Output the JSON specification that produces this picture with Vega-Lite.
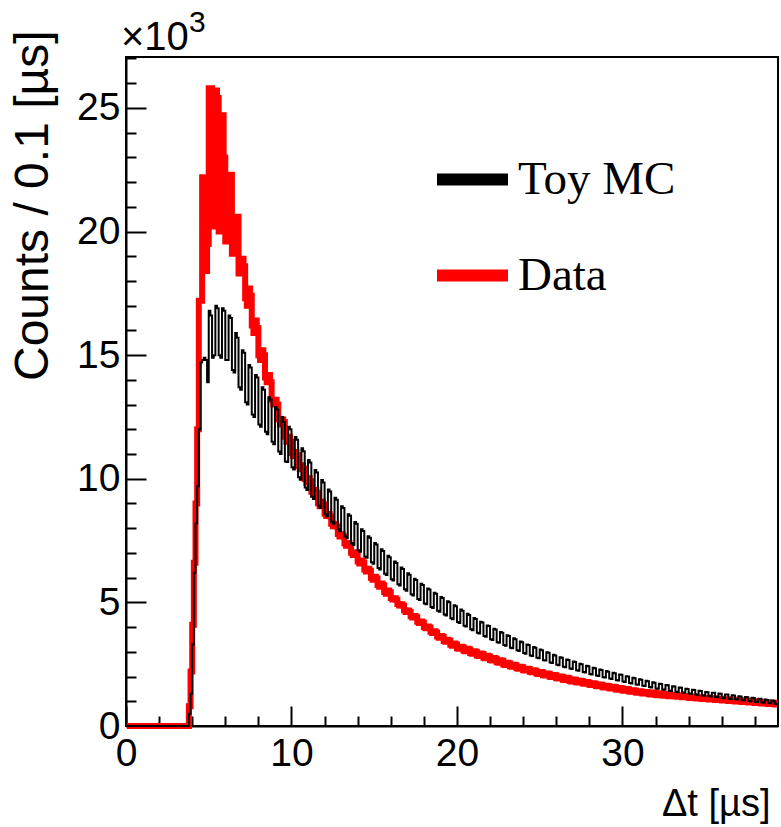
{
  "$schema": "https://vega.github.io/schema/vega-lite/v6.json",
  "width": 652,
  "height": 669,
  "autosize": {"type": "none"},
  "padding": {"left": 126, "top": 57, "right": 3, "bottom": 101},
  "background": "white",
  "config": {
    "view": {"stroke": "black", "strokeWidth": 2},
    "axis": {
      "domainColor": "black", "domainWidth": 2,
      "tickColor": "black", "tickWidth": 2,
      "grid": false,
      "labelColor": "black", "labelFont": "Liberation Sans", "labelFontSize": 39,
      "titleColor": "black", "titleFont": "Liberation Sans", "titleFontWeight": "normal",
      "labelFlush": false, "labelOverlap": false
    }
  },
  "datasets": {
    "hist": [
      {"t":0.05,"mc":0,"data":0},{"t":0.15,"mc":0,"data":0},{"t":0.25,"mc":0,"data":0},{"t":0.35,"mc":0,"data":0},{"t":0.45,"mc":0,"data":0},
      {"t":0.55,"mc":0,"data":0},{"t":0.65,"mc":0,"data":0},{"t":0.75,"mc":0,"data":0},{"t":0.85,"mc":0,"data":0},{"t":0.95,"mc":0,"data":0},
      {"t":1.05,"mc":0,"data":0},{"t":1.15,"mc":0,"data":0},{"t":1.25,"mc":0,"data":0},{"t":1.35,"mc":0,"data":0},{"t":1.45,"mc":0,"data":0},
      {"t":1.55,"mc":0,"data":0},{"t":1.65,"mc":0,"data":0},{"t":1.75,"mc":0,"data":0},{"t":1.85,"mc":0,"data":0},{"t":1.95,"mc":0,"data":0},
      {"t":2.05,"mc":0,"data":0},{"t":2.15,"mc":0,"data":0},{"t":2.25,"mc":0,"data":0},{"t":2.35,"mc":0,"data":0},{"t":2.45,"mc":0,"data":0},
      {"t":2.55,"mc":0,"data":0},{"t":2.65,"mc":0,"data":0},{"t":2.75,"mc":0,"data":0},{"t":2.85,"mc":0,"data":0},{"t":2.95,"mc":0,"data":0},
      {"t":3.05,"mc":0,"data":0},{"t":3.15,"mc":0,"data":0},{"t":3.25,"mc":0,"data":0},{"t":3.35,"mc":0,"data":0},{"t":3.45,"mc":0,"data":0},
      {"t":3.55,"mc":0,"data":0},{"t":3.65,"mc":0,"data":0},{"t":3.75,"mc":0,"data":0},{"t":3.85,"mc":500,"data":800},{"t":3.95,"mc":1300,"data":2200},
      {"t":4.05,"mc":3300,"data":4100},{"t":4.15,"mc":6200,"data":6600},{"t":4.25,"mc":8200,"data":9000},{"t":4.35,"mc":9700,"data":12000},{"t":4.45,"mc":12000,"data":17200},
      {"t":4.55,"mc":14700,"data":17200},{"t":4.65,"mc":14800,"data":22200},{"t":4.75,"mc":14900,"data":22200},{"t":4.85,"mc":14800,"data":18400},{"t":4.95,"mc":13900,"data":19500},
      {"t":5.05,"mc":16800,"data":25800},{"t":5.15,"mc":16600,"data":25800},{"t":5.25,"mc":14900,"data":20200},{"t":5.35,"mc":15000,"data":20300},{"t":5.45,"mc":17000,"data":25700},
      {"t":5.55,"mc":16900,"data":25400},{"t":5.65,"mc":15000,"data":20000},{"t":5.75,"mc":14900,"data":20100},{"t":5.85,"mc":16900,"data":24700},{"t":5.95,"mc":16800,"data":23000},
      {"t":6.05,"mc":14800,"data":19600},{"t":6.15,"mc":14800,"data":19700},{"t":6.25,"mc":16600,"data":22300},{"t":6.35,"mc":16500,"data":22300},{"t":6.45,"mc":14400,"data":19100},
      {"t":6.55,"mc":14300,"data":19200},{"t":6.65,"mc":15900,"data":20600},{"t":6.75,"mc":15700,"data":20600},{"t":6.85,"mc":13700,"data":18300},{"t":6.95,"mc":13600,"data":18400},
      {"t":7.05,"mc":15200,"data":18900},{"t":7.15,"mc":15100,"data":18600},{"t":7.25,"mc":13100,"data":17300},{"t":7.35,"mc":13000,"data":17000},{"t":7.45,"mc":14600,"data":17700},
      {"t":7.55,"mc":14500,"data":17400},{"t":7.65,"mc":12600,"data":16200},{"t":7.75,"mc":12500,"data":15900},{"t":7.85,"mc":14200,"data":16400},{"t":7.95,"mc":14100,"data":16100},
      {"t":8.05,"mc":12200,"data":15000},{"t":8.15,"mc":12100,"data":14800},{"t":8.25,"mc":13700,"data":15200},{"t":8.35,"mc":13600,"data":15000},{"t":8.45,"mc":11900,"data":14100},
      {"t":8.55,"mc":11800,"data":13900},{"t":8.65,"mc":13300,"data":14200},{"t":8.75,"mc":13200,"data":13900},{"t":8.85,"mc":11500,"data":13200},{"t":8.95,"mc":11400,"data":13000},
      {"t":9.05,"mc":12900,"data":13200},{"t":9.15,"mc":12800,"data":13000},{"t":9.25,"mc":11100,"data":12400},{"t":9.35,"mc":11000,"data":12200},{"t":9.45,"mc":12500,"data":12400},
      {"t":9.55,"mc":12300,"data":12300},{"t":9.65,"mc":10700,"data":11700},{"t":9.75,"mc":10680,"data":11500},{"t":9.85,"mc":12100,"data":11700},{"t":9.95,"mc":12000,"data":11500},
      {"t":10.05,"mc":10470,"data":11030},{"t":10.15,"mc":10370,"data":10920},{"t":10.25,"mc":11690,"data":11080},{"t":10.35,"mc":11580,"data":10950},{"t":10.45,"mc":10060,"data":10520},
      {"t":10.55,"mc":9960,"data":10390},{"t":10.65,"mc":11230,"data":10550},{"t":10.75,"mc":11110,"data":10420},{"t":10.85,"mc":9650,"data":9990},{"t":10.95,"mc":9550,"data":9850},
      {"t":11.05,"mc":10760,"data":10020},{"t":11.15,"mc":10660,"data":9900},{"t":11.25,"mc":9270,"data":9480},{"t":11.35,"mc":9180,"data":9370},{"t":11.45,"mc":10350,"data":9550},
      {"t":11.55,"mc":10250,"data":9430},{"t":11.65,"mc":8910,"data":9010},{"t":11.75,"mc":8820,"data":8890},{"t":11.85,"mc":9950,"data":9080},{"t":11.95,"mc":9850,"data":8960},
      {"t":12.05,"mc":8560,"data":8590},{"t":12.15,"mc":8480,"data":8490},{"t":12.25,"mc":9570,"data":8580},{"t":12.35,"mc":9490,"data":8480},{"t":12.45,"mc":8260,"data":8180},
      {"t":12.55,"mc":8180,"data":8080},{"t":12.65,"mc":9230,"data":8170},{"t":12.75,"mc":9150,"data":8070},{"t":12.85,"mc":7960,"data":7770},{"t":12.95,"mc":7880,"data":7660},
      {"t":13.05,"mc":8890,"data":7760},{"t":13.15,"mc":8820,"data":7670},{"t":13.25,"mc":7670,"data":7380},{"t":13.35,"mc":7600,"data":7290},{"t":13.45,"mc":8570,"data":7400},
      {"t":13.55,"mc":8500,"data":7310},{"t":13.65,"mc":7390,"data":7010},{"t":13.75,"mc":7320,"data":6920},{"t":13.85,"mc":8250,"data":7030},{"t":13.95,"mc":8180,"data":6940},
      {"t":14.05,"mc":7110,"data":6650},{"t":14.15,"mc":7050,"data":6570},{"t":14.25,"mc":7960,"data":6690},{"t":14.35,"mc":7890,"data":6610},{"t":14.45,"mc":6860,"data":6330},
      {"t":14.55,"mc":6810,"data":6250},{"t":14.65,"mc":7680,"data":6360},{"t":14.75,"mc":7610,"data":6280},{"t":14.85,"mc":6620,"data":6000},{"t":14.95,"mc":6560,"data":5920},
      {"t":15.05,"mc":7400,"data":6040},{"t":15.15,"mc":7340,"data":5970},{"t":15.25,"mc":6390,"data":5700},{"t":15.35,"mc":6330,"data":5630},{"t":15.45,"mc":7150,"data":5760},
      {"t":15.55,"mc":7080,"data":5690},{"t":15.65,"mc":6160,"data":5420},{"t":15.75,"mc":6110,"data":5350},{"t":15.85,"mc":6890,"data":5480},{"t":15.95,"mc":6830,"data":5410},
      {"t":16.05,"mc":5940,"data":5180},{"t":16.15,"mc":5890,"data":5120},{"t":16.25,"mc":6650,"data":5170},{"t":16.35,"mc":6590,"data":5110},{"t":16.45,"mc":5730,"data":4930},
      {"t":16.55,"mc":5680,"data":4870},{"t":16.65,"mc":6410,"data":4920},{"t":16.75,"mc":6350,"data":4860},{"t":16.85,"mc":5530,"data":4680},{"t":16.95,"mc":5470,"data":4610},
      {"t":17.05,"mc":6180,"data":4670},{"t":17.15,"mc":6120,"data":4620},{"t":17.25,"mc":5330,"data":4440},{"t":17.35,"mc":5280,"data":4390},{"t":17.45,"mc":5960,"data":4450},
      {"t":17.55,"mc":5910,"data":4400},{"t":17.65,"mc":5140,"data":4220},{"t":17.75,"mc":5100,"data":4170},{"t":17.85,"mc":5750,"data":4230},{"t":17.95,"mc":5700,"data":4180},
      {"t":18.05,"mc":4960,"data":4000},{"t":18.15,"mc":4920,"data":3950},{"t":18.25,"mc":5560,"data":4020},{"t":18.35,"mc":5520,"data":3980},{"t":18.45,"mc":4810,"data":3810},
      {"t":18.55,"mc":4770,"data":3760},{"t":18.65,"mc":5390,"data":3830},{"t":18.75,"mc":5350,"data":3780},{"t":18.85,"mc":4660,"data":3620},{"t":18.95,"mc":4620,"data":3570},
      {"t":19.05,"mc":5220,"data":3640},{"t":19.15,"mc":5180,"data":3600},{"t":19.25,"mc":4510,"data":3440},{"t":19.35,"mc":4470,"data":3410},{"t":19.45,"mc":5050,"data":3490},
      {"t":19.55,"mc":5010,"data":3450},{"t":19.65,"mc":4360,"data":3290},{"t":19.75,"mc":4320,"data":3250},{"t":19.85,"mc":4880,"data":3340},{"t":19.95,"mc":4840,"data":3300},
      {"t":20.05,"mc":4210,"data":3140},{"t":20.15,"mc":4170,"data":3120},{"t":20.25,"mc":4710,"data":3210},{"t":20.35,"mc":4660,"data":3190},{"t":20.45,"mc":4060,"data":3040},
      {"t":20.55,"mc":4020,"data":3020},{"t":20.65,"mc":4540,"data":3120},{"t":20.75,"mc":4490,"data":3090},{"t":20.85,"mc":3910,"data":2950},{"t":20.95,"mc":3870,"data":2920},
      {"t":21.05,"mc":4370,"data":3020},{"t":21.15,"mc":4330,"data":3000},{"t":21.25,"mc":3770,"data":2850},{"t":21.35,"mc":3740,"data":2830},{"t":21.45,"mc":4220,"data":2930},
      {"t":21.55,"mc":4190,"data":2910},{"t":21.65,"mc":3640,"data":2760},{"t":21.75,"mc":3610,"data":2740},{"t":21.85,"mc":4070,"data":2840},{"t":21.95,"mc":4040,"data":2810},
      {"t":22.05,"mc":3510,"data":2670},{"t":22.15,"mc":3480,"data":2650},{"t":22.25,"mc":3930,"data":2750},{"t":22.35,"mc":3900,"data":2720},{"t":22.45,"mc":3390,"data":2580},
      {"t":22.55,"mc":3370,"data":2560},{"t":22.65,"mc":3800,"data":2660},{"t":22.75,"mc":3770,"data":2640},{"t":22.85,"mc":3280,"data":2490},{"t":22.95,"mc":3250,"data":2470},
      {"t":23.05,"mc":3670,"data":2560},{"t":23.15,"mc":3640,"data":2540},{"t":23.25,"mc":3170,"data":2420},{"t":23.35,"mc":3140,"data":2400},{"t":23.45,"mc":3550,"data":2480},
      {"t":23.55,"mc":3510,"data":2460},{"t":23.65,"mc":3060,"data":2340},{"t":23.75,"mc":3030,"data":2320},{"t":23.85,"mc":3420,"data":2400},{"t":23.95,"mc":3390,"data":2380},
      {"t":24.05,"mc":2950,"data":2260},{"t":24.15,"mc":2920,"data":2240},{"t":24.25,"mc":3300,"data":2320},{"t":24.35,"mc":3280,"data":2310},{"t":24.45,"mc":2850,"data":2190},
      {"t":24.55,"mc":2830,"data":2170},{"t":24.65,"mc":3200,"data":2250},{"t":24.75,"mc":3170,"data":2230},{"t":24.85,"mc":2760,"data":2120},{"t":24.95,"mc":2740,"data":2100},
      {"t":25.05,"mc":3090,"data":2180},{"t":25.15,"mc":3060,"data":2170},{"t":25.25,"mc":2660,"data":2050},{"t":25.35,"mc":2650,"data":2040},{"t":25.45,"mc":2980,"data":2120},
      {"t":25.55,"mc":2960,"data":2110},{"t":25.65,"mc":2570,"data":1990},{"t":25.75,"mc":2550,"data":1980},{"t":25.85,"mc":2880,"data":2060},{"t":25.95,"mc":2850,"data":2050},
      {"t":26.05,"mc":2480,"data":1930},{"t":26.15,"mc":2460,"data":1920},{"t":26.25,"mc":2780,"data":2000},{"t":26.35,"mc":2760,"data":1990},{"t":26.45,"mc":2400,"data":1870},
      {"t":26.55,"mc":2380,"data":1860},{"t":26.65,"mc":2690,"data":1950},{"t":26.75,"mc":2670,"data":1930},{"t":26.85,"mc":2330,"data":1820},{"t":26.95,"mc":2310,"data":1800},
      {"t":27.05,"mc":2610,"data":1880},{"t":27.15,"mc":2590,"data":1870},{"t":27.25,"mc":2250,"data":1770},{"t":27.35,"mc":2230,"data":1760},{"t":27.45,"mc":2520,"data":1830},
      {"t":27.55,"mc":2500,"data":1820},{"t":27.65,"mc":2180,"data":1720},{"t":27.75,"mc":2160,"data":1710},{"t":27.85,"mc":2440,"data":1780},{"t":27.95,"mc":2420,"data":1760},
      {"t":28.05,"mc":2100,"data":1670},{"t":28.15,"mc":2080,"data":1660},{"t":28.25,"mc":2360,"data":1730},{"t":28.35,"mc":2340,"data":1710},{"t":28.45,"mc":2040,"data":1620},
      {"t":28.55,"mc":2020,"data":1610},{"t":28.65,"mc":2290,"data":1680},{"t":28.75,"mc":2270,"data":1670},{"t":28.85,"mc":1970,"data":1570},{"t":28.95,"mc":1960,"data":1560},
      {"t":29.05,"mc":2220,"data":1630},{"t":29.15,"mc":2190,"data":1620},{"t":29.25,"mc":1920,"data":1530},{"t":29.35,"mc":1900,"data":1520},{"t":29.45,"mc":2150,"data":1590},
      {"t":29.55,"mc":2130,"data":1580},{"t":29.65,"mc":1850,"data":1480},{"t":29.75,"mc":1840,"data":1470},{"t":29.85,"mc":2080,"data":1540},{"t":29.95,"mc":2070,"data":1530},
      {"t":30.05,"mc":1800,"data":1440},{"t":30.15,"mc":1780,"data":1430},{"t":30.25,"mc":2010,"data":1500},{"t":30.35,"mc":2000,"data":1490},{"t":30.45,"mc":1740,"data":1400},
      {"t":30.55,"mc":1720,"data":1390},{"t":30.65,"mc":1950,"data":1450},{"t":30.75,"mc":1930,"data":1440},{"t":30.85,"mc":1680,"data":1350},{"t":30.95,"mc":1670,"data":1340},
      {"t":31.05,"mc":1890,"data":1410},{"t":31.15,"mc":1870,"data":1400},{"t":31.25,"mc":1630,"data":1310},{"t":31.35,"mc":1620,"data":1310},{"t":31.45,"mc":1830,"data":1380},
      {"t":31.55,"mc":1810,"data":1370},{"t":31.65,"mc":1580,"data":1280},{"t":31.75,"mc":1560,"data":1270},{"t":31.85,"mc":1770,"data":1350},{"t":31.95,"mc":1750,"data":1340},
      {"t":32.05,"mc":1520,"data":1250},{"t":32.15,"mc":1510,"data":1240},{"t":32.25,"mc":1710,"data":1320},{"t":32.35,"mc":1700,"data":1310},{"t":32.45,"mc":1480,"data":1230},
      {"t":32.55,"mc":1470,"data":1220},{"t":32.65,"mc":1660,"data":1290},{"t":32.75,"mc":1650,"data":1290},{"t":32.85,"mc":1430,"data":1200},{"t":32.95,"mc":1420,"data":1200},
      {"t":33.05,"mc":1610,"data":1260},{"t":33.15,"mc":1600,"data":1250},{"t":33.25,"mc":1390,"data":1190},{"t":33.35,"mc":1380,"data":1180},{"t":33.45,"mc":1560,"data":1240},
      {"t":33.55,"mc":1550,"data":1230},{"t":33.65,"mc":1350,"data":1160},{"t":33.75,"mc":1340,"data":1160},{"t":33.85,"mc":1510,"data":1210},{"t":33.95,"mc":1500,"data":1210},
      {"t":34.05,"mc":1310,"data":1140},{"t":34.15,"mc":1300,"data":1130},{"t":34.25,"mc":1470,"data":1190},{"t":34.35,"mc":1460,"data":1180},{"t":34.45,"mc":1270,"data":1120},
      {"t":34.55,"mc":1260,"data":1110},{"t":34.65,"mc":1430,"data":1160},{"t":34.75,"mc":1420,"data":1160},{"t":34.85,"mc":1230,"data":1090},{"t":34.95,"mc":1220,"data":1090},
      {"t":35.05,"mc":1380,"data":1140},{"t":35.15,"mc":1370,"data":1140},{"t":35.25,"mc":1200,"data":1070},{"t":35.35,"mc":1190,"data":1070},{"t":35.45,"mc":1340,"data":1120},
      {"t":35.55,"mc":1340,"data":1120},{"t":35.65,"mc":1170,"data":1050},{"t":35.75,"mc":1160,"data":1050},{"t":35.85,"mc":1310,"data":1100},{"t":35.95,"mc":1300,"data":1100},
      {"t":36.05,"mc":1130,"data":1030},{"t":36.15,"mc":1120,"data":1030},{"t":36.25,"mc":1270,"data":1080},{"t":36.35,"mc":1270,"data":1080},{"t":36.45,"mc":1100,"data":1010},
      {"t":36.55,"mc":1090,"data":1010},{"t":36.65,"mc":1240,"data":1060},{"t":36.75,"mc":1230,"data":1060},{"t":36.85,"mc":1080,"data":990},{"t":36.95,"mc":1070,"data":990},
      {"t":37.05,"mc":1200,"data":1040},{"t":37.15,"mc":1190,"data":1040},{"t":37.25,"mc":1040,"data":970},{"t":37.35,"mc":1040,"data":970},{"t":37.45,"mc":1170,"data":1020},
      {"t":37.55,"mc":1160,"data":1020},{"t":37.65,"mc":1010,"data":950},{"t":37.75,"mc":1000,"data":950},{"t":37.85,"mc":1140,"data":1000},{"t":37.95,"mc":1130,"data":1000},
      {"t":38.05,"mc":980,"data":930},{"t":38.15,"mc":970,"data":930},{"t":38.25,"mc":1100,"data":980},{"t":38.35,"mc":1100,"data":980},{"t":38.45,"mc":950,"data":910},
      {"t":38.55,"mc":940,"data":910},{"t":38.65,"mc":1070,"data":960},{"t":38.75,"mc":1050,"data":960},{"t":38.85,"mc":930,"data":890},{"t":38.95,"mc":920,"data":890},
      {"t":39.05,"mc":1030,"data":940},{"t":39.15,"mc":1020,"data":940},{"t":39.25,"mc":900,"data":870},{"t":39.35,"mc":890,"data":870}
    ]
  },
  "data": {"name": "hist"},
  "resolve": {"axis": {"x": "independent", "y": "independent"}},
  "layer": [
    {
      "mark": {"type": "line", "interpolate": "step", "strokeWidth": 6, "strokeJoin": "miter"},
      "encoding": {
        "x": {
          "field": "t", "type": "quantitative",
          "scale": {"domain": [0, 39.4], "nice": false, "zero": false},
          "axis": {
            "orient": "bottom", "values": [0, 10, 20, 30], "tickSize": -20, "labelPadding": 28.5,
            "title": "Δt [µs]", "titleFontSize": 38, "titleAngle": 0,
            "titleX": 644, "titleY": 89, "titleAlign": "right", "titleBaseline": "alphabetic"
          }
        },
        "y": {
          "field": "data", "type": "quantitative",
          "scale": {"domain": [0, 27060], "nice": false, "zero": true},
          "axis": {
            "orient": "left", "values": [0, 5000, 10000, 15000, 20000, 25000], "tickSize": -20, "labelPadding": 26,
            "labelExpr": "datum.value / 1000",
            "title": "Counts / 0.1 [µs]", "titleFontSize": 48, "titleAngle": 270,
            "titleX": -79, "titleY": -27, "titleAlign": "right", "titleBaseline": "alphabetic"
          }
        },
        "color": {
          "datum": "Data", "type": "nominal",
          "scale": {"domain": ["Toy MC", "Data"], "range": ["#000000", "#ff0000"]},
          "legend": {
            "orient": "none", "legendX": 305, "legendY": 81, "title": null,
            "symbolType": "stroke", "symbolSize": 5041, "symbolStrokeWidth": 12,
            "labelFont": "Liberation Serif", "labelFontSize": 47, "labelColor": "black",
            "labelOffset": 4, "labelLimit": 400, "rowPadding": 30
          }
        }
      }
    },
    {
      "mark": {"type": "line", "interpolate": "step", "strokeWidth": 2, "strokeJoin": "miter"},
      "encoding": {
        "x": {
          "field": "t", "type": "quantitative",
          "scale": {"domain": [0, 39.4], "nice": false, "zero": false},
          "axis": {
            "orient": "bottom", "values": [2, 4, 6, 8, 12, 14, 16, 18, 22, 24, 26, 28, 32, 34, 36, 38],
            "tickSize": -10, "labels": false, "domain": false, "title": null
          }
        },
        "y": {
          "field": "mc", "type": "quantitative",
          "scale": {"domain": [0, 27060], "nice": false, "zero": true},
          "axis": {
            "orient": "left",
            "values": [1000, 2000, 3000, 4000, 6000, 7000, 8000, 9000, 11000, 12000, 13000, 14000, 16000, 17000, 18000, 19000, 21000, 22000, 23000, 24000, 26000, 27000],
            "tickSize": -10, "labels": false, "domain": false, "title": null
          }
        },
        "color": {"datum": "Toy MC", "type": "nominal"}
      }
    },
    {
      "data": {"values": [{}]},
      "mark": {"type": "text", "text": "×10", "align": "left", "baseline": "alphabetic", "font": "Liberation Sans", "fontSize": 40, "color": "black", "dx": -5, "dy": -7},
      "encoding": {
        "x": {"datum": 0, "type": "quantitative", "axis": null},
        "y": {"datum": 27060, "type": "quantitative", "axis": null}
      }
    },
    {
      "data": {"values": [{}]},
      "mark": {"type": "text", "text": "3", "align": "left", "baseline": "alphabetic", "font": "Liberation Sans", "fontSize": 30, "color": "black", "dx": 63, "dy": -25},
      "encoding": {
        "x": {"datum": 0, "type": "quantitative", "axis": null},
        "y": {"datum": 27060, "type": "quantitative", "axis": null}
      }
    }
  ]
}
